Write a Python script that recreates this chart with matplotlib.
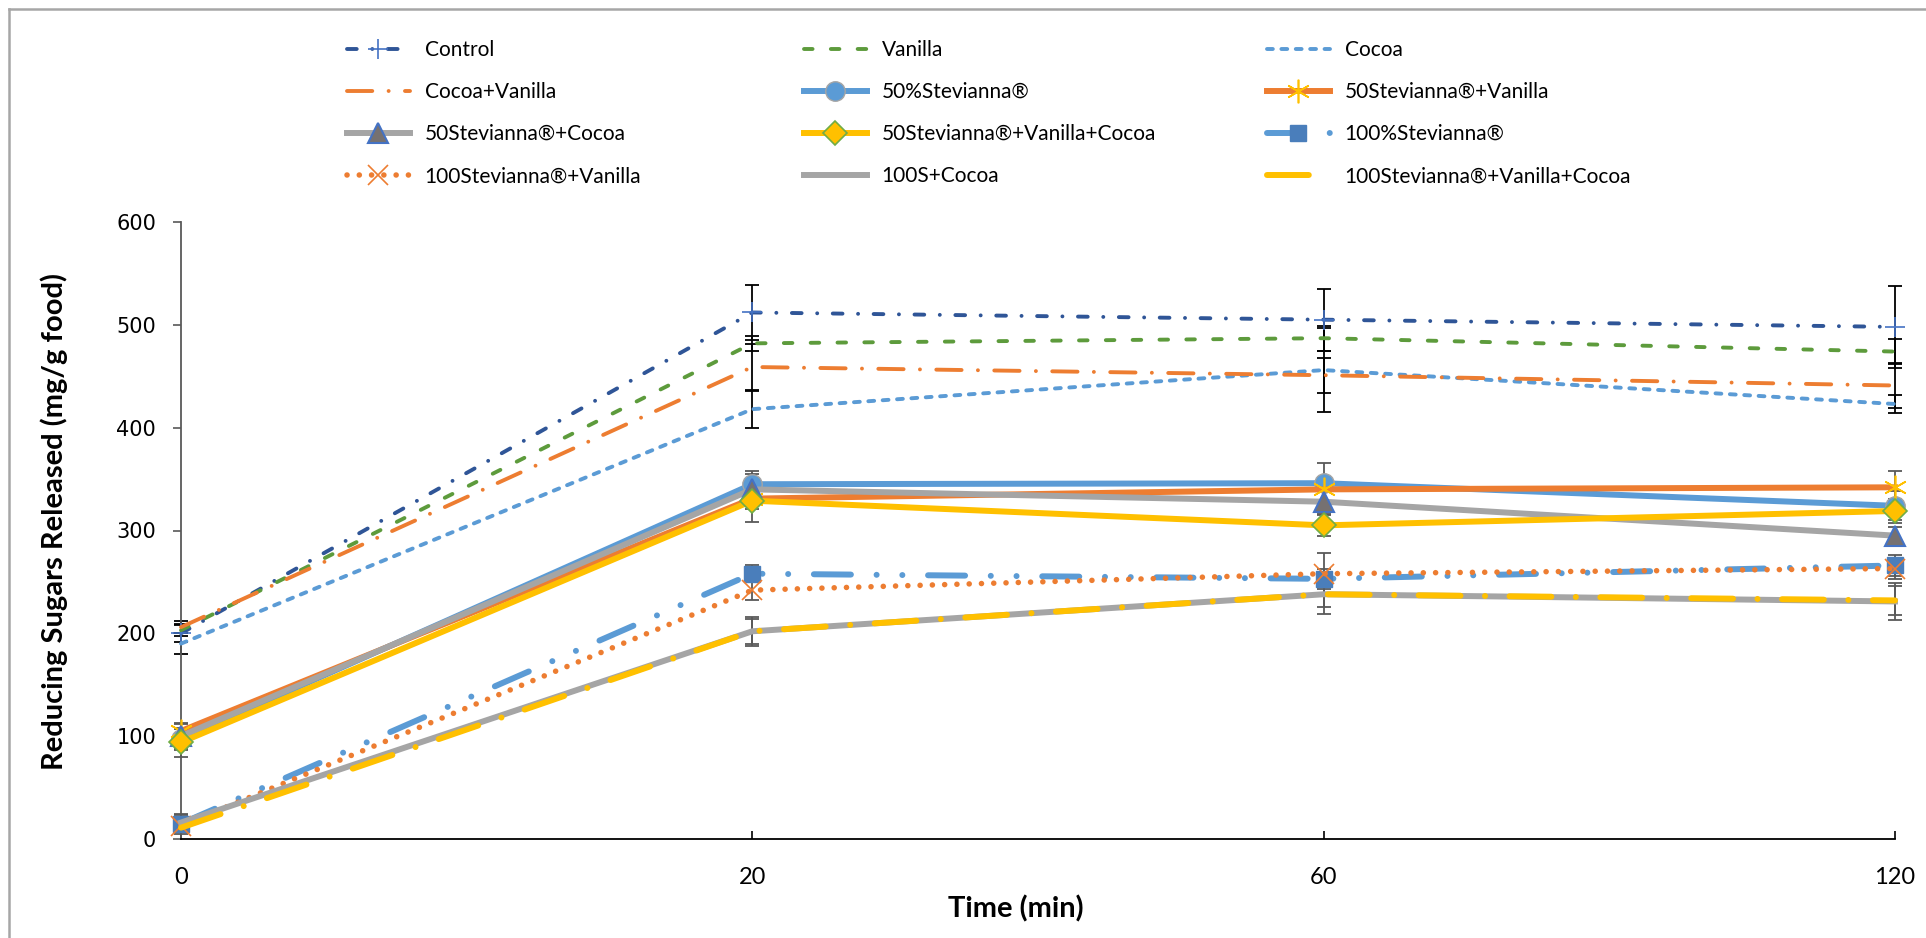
import matplotlib.pyplot as plt
from matplotlib.lines import Line2D

# sampling times (category axis)
times = ['0', '20', '60', '120']

# reducing sugars released (mg/g food)
control = [200, 512, 505, 498]
vanilla = [203, 482, 487, 474]
cocoa = [190, 418, 456, 423]
cocoa_vanilla = [206, 459, 451, 441]
s50 = [97, 345, 346, 324]
s50_vanilla = [105, 331, 340, 342]
s50_cocoa = [100, 340, 328, 295]
s50_vanilla_cocoa = [94, 329, 305, 319]
s100 = [15, 258, 253, 266]
s100_vanilla = [13, 242, 258, 263]
s100_cocoa = [16, 202, 238, 231]
s100_vanilla_cocoa = [11, 202, 238, 232]

# error bars (+/-)
control_err = [8, 27, 30, 40]
vanilla_err = [6, 7, 12, 12]
cocoa_err = [10, 18, 41, 9]
cocoa_vanilla_err = [6, 22, 17, 22]
s50_err = [10, 13, 20, 14]
s50_vanilla_err = [8, 10, 12, 16]
s50_cocoa_err = [12, 15, 12, 8]
s50_vanilla_cocoa_err = [14, 21, 10, 12]
s100_err = [8, 8, 10, 10]
s100_vanilla_err = [6, 10, 20, 10]
s100_cocoa_err = [8, 14, 19, 18]
s100_vanilla_cocoa_err = [6, 12, 12, 14]

DBLUE = '#2F5597'
GREEN = '#5D9B3C'
LBLUE = '#5B9BD5'
ORANGE = '#ED7D31'
GRAY = '#A5A5A5'
YELLOW = '#FFC000'

x = list(range(len(times)))

fig = plt.figure(figsize=(19.26, 9.38), dpi=100)
ax = fig.add_axes([181 / 1926, 1 - 839 / 938, 1714 / 1926, 617 / 938])

# series: (label, values, errors, style kwargs, error colour)
series = [
    ('Control', control, control_err,
     dict(color=DBLUE, lw=2.8, ls=(0, (2.5, 4, 0.01, 4)),
          marker='+', ms=15, mew=1.2, mec='#4472C4'), 'black'),
    ('Vanilla', vanilla, vanilla_err,
     dict(color=GREEN, lw=2.8, ls=(0, (2.2, 4.7))), 'black'),
    ('Cocoa', cocoa, cocoa_err,
     dict(color=LBLUE, lw=2.8, ls=(0, (1.5, 2.2))), 'black'),
    ('Cocoa+Vanilla', cocoa_vanilla, cocoa_vanilla_err,
     dict(color=ORANGE, lw=2.8, ls=(0, (6.5, 4.2, 0.01, 4.2))), 'black'),
    ('50%Stevianna®', s50, s50_err,
     dict(color=LBLUE, lw=4.3, ls='-', marker='o', ms=14,
          mfc=LBLUE, mec=GRAY, mew=1), '#595959'),
    ('50Stevianna®+Vanilla', s50_vanilla, s50_vanilla_err,
     dict(color=ORANGE, lw=4.3, ls='-', marker=(6, 2, 0), ms=17,
          mec=YELLOW, mew=1.2), '#595959'),
    ('50Stevianna®+Cocoa', s50_cocoa, s50_cocoa_err,
     dict(color=GRAY, lw=4.3, ls='-', marker='^', ms=14,
          mfc='#767171', mec='#4472C4', mew=1.5), '#595959'),
    ('50Stevianna®+Vanilla+Cocoa', s50_vanilla_cocoa, s50_vanilla_cocoa_err,
     dict(color=YELLOW, lw=4.3, ls='-', marker='D', ms=12,
          mfc=YELLOW, mec='#70AD47', mew=1.2), '#595959'),
    ('100%Stevianna®', s100, s100_err,
     dict(color=LBLUE, lw=4.3, ls=(0, (6.2, 4.3, 0.01, 4.3, 0.01, 4.3)),
          marker='s', ms=11, mfc='#4A7EBB', mec='#4A7EBB'), '#595959'),
    ('100Stevianna®+Vanilla', s100_vanilla, s100_vanilla_err,
     dict(color=ORANGE, lw=4.0, ls=(0, (0.01, 2.2)),
          marker='x', ms=14, mec=ORANGE, mew=1.2), '#595959'),
    ('100S+Cocoa', s100_cocoa, s100_cocoa_err,
     dict(color=GRAY, lw=4.3, ls='-'), '#595959'),
    ('100Stevianna®+Vanilla+Cocoa', s100_vanilla_cocoa, s100_vanilla_cocoa_err,
     dict(color=YELLOW, lw=4.3, ls=(0, (7, 4.1, 0.01, 4.1))), '#595959'),
]

handles = []
for label, vals, errs, kw, ecol in series:
    ax.errorbar(x, vals, yerr=errs, fmt='none', ecolor=ecol,
                elinewidth=1.3, capsize=5, capthick=1.3, clip_on=False, zorder=2)
    line, = ax.plot(x, vals, label=label, dash_capstyle='round',
                    clip_on=False, zorder=3, **kw)
    handles.append(line)

ax.set_xlim(0, 3)
ax.set_ylim(0, 600)
ax.set_xticks(x)
ax.set_xticklabels(times, family='Lato', fontsize=17)
ax.set_yticks(range(0, 601, 100))
for t in ax.get_yticklabels():
    t.set_family('DejaVu Sans')
    t.set_fontsize(15)

ax.spines['top'].set_visible(False)
ax.spines['right'].set_visible(False)
ax.spines['left'].set_color('#595959')
ax.spines['left'].set_linewidth(1.3)
ax.spines['bottom'].set_color('black')
ax.spines['bottom'].set_linewidth(1.3)
ax.tick_params(axis='y', direction='out', length=6, width=1.2, color='#595959', pad=12)
ax.tick_params(axis='x', direction='in', length=6, width=1.2, color='black', pad=20)

ax.set_ylabel('Reducing Sugars Released (mg/g food)', family='Lato',
              fontweight='bold', fontsize=21)
ax.yaxis.set_label_coords(-0.066, 0.515)
ax.set_xlabel('Time (min)', family='Lato', fontweight='bold', fontsize=21)
ax.xaxis.set_label_coords(0.487, -0.092)

# three legend columns, four rows each
col_x = [347, 804, 1267]
for c in range(3):
    hs = handles[c::3]
    fig.legend(handles=hs, labels=[h.get_label() for h in hs],
               loc='upper left', bbox_to_anchor=(col_x[c] / 1926, 1 - 40 / 938),
               ncol=1, frameon=False, borderpad=0, borderaxespad=0,
               handlelength=3.0, handletextpad=0.72, labelspacing=1.06,
               prop={'family': 'Lato', 'size': 15})

# chart frame (left and top edges visible)
fig.add_artist(Line2D([9 / 1926, 9 / 1926], [0, 1 - 9 / 938],
                      transform=fig.transFigure, color='#A6A6A6', lw=1.8))
fig.add_artist(Line2D([9 / 1926, 1], [1 - 9 / 938, 1 - 9 / 938],
                      transform=fig.transFigure, color='#A6A6A6', lw=1.8))

fig.savefig('out.png', dpi=100)
